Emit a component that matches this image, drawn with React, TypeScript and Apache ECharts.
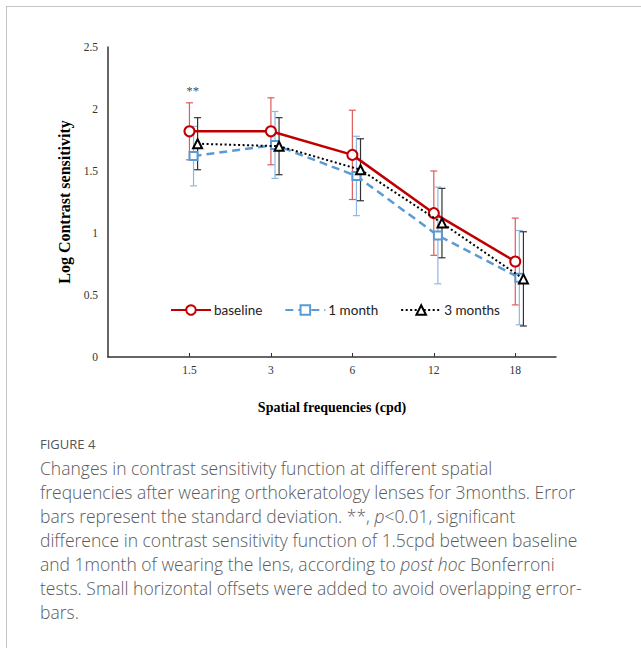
import React, { useEffect, useRef } from "react";
import * as echarts from "echarts";

const categories = ["1.5", "3", "6", "12", "18"];
const baselineMean = [1.82, 1.82, 1.63, 1.16, 0.77];
const baselineSD = [0.23, 0.27, 0.36, 0.34, 0.35];
const oneMonthMean = [1.62, 1.71, 1.46, 0.98, 0.64];
const oneMonthSD = [0.24, 0.27, 0.32, 0.39, 0.38];
const threeMonthsMean = [1.72, 1.7, 1.51, 1.08, 0.63];
const threeMonthsSD = [0.21, 0.23, 0.25, 0.28, 0.38];
const seriesNames = ["baseline", "1 month", "3 months"];
const xOffsets = [0, 0.05, 0.1];
const yTicks = [0, 0.5, 1, 1.5, 2, 2.5];
const annotation = { text: "**", x: 1.04, y: 2.15 };

const serif = "'Liberation Serif', 'Times New Roman', serif";

function points(means: number[], off: number) {
  return means.map((m, i) => [i + 1 + off, m]);
}
function errData(means: number[], sds: number[], off: number) {
  return means.map((m, i) => [i + 1 + off, m - sds[i], m + sds[i]]);
}

function errSeries(name: string, data: number[][], color: string) {
  return {
    name,
    type: "custom",
    z: 1,
    data,
    renderItem: (_p: any, api: any) => {
      const x = api.value(0);
      const top = api.coord([x, api.value(2)]);
      const bot = api.coord([x, api.value(1)]);
      const w = 3.5;
      const style = { stroke: color, lineWidth: 1.2 };
      return {
        type: "group",
        children: [
          { type: "line", shape: { x1: top[0], y1: top[1], x2: bot[0], y2: bot[1] }, style },
          { type: "line", shape: { x1: top[0] - w, y1: top[1], x2: top[0] + w, y2: top[1] }, style },
          { type: "line", shape: { x1: bot[0] - w, y1: bot[1], x2: bot[0] + w, y2: bot[1] }, style },
        ],
      };
    },
  };
}

function Chart() {
  const ref = useRef<HTMLDivElement>(null);
  useEffect(() => {
    if (!ref.current) return;
    const chart = echarts.init(ref.current, null, { renderer: "svg" });
    const lineColors = ["#C00000", "#5B9BD5", "#000000"];
    chart.setOption({
      animation: false,
      backgroundColor: "transparent",
      grid: { left: 108, top: 47, width: 448, height: 310 },
      legend: {
        data: seriesNames,
        left: 170,
        top: 303,
        padding: 0,
        itemWidth: 40,
        itemHeight: 12,
        itemGap: 22,
        textStyle: { fontFamily: "Lato, 'Open Sans', sans-serif", fontSize: 13.5, color: "#222", padding: [0, 0, 0, -2] },
      },
      xAxis: {
        type: "value",
        min: 0,
        max: 5.5,
        interval: 1,
        name: "Spatial frequencies (cpd)",
        nameLocation: "middle",
        nameGap: 43,
        nameTextStyle: { fontFamily: serif, fontWeight: "bold", fontSize: 14, color: "#000" },
        axisLine: { lineStyle: { color: "#333", width: 1.5 } },
        axisTick: { show: true, inside: true, length: 4, customValues: [1, 2, 3, 4, 5], lineStyle: { color: "#333" } },
        axisLabel: {
          customValues: [1, 2, 3, 4, 5],
          formatter: (v: number) => categories[Math.round(v) - 1] ?? "",
          fontFamily: serif,
          fontSize: 11.5,
          color: "#333",
          margin: 7,
        },
        splitLine: { show: false },
      },
      yAxis: {
        type: "value",
        min: 0,
        max: 2.5,
        interval: 0.5,
        name: "Log Contrast sensitivity",
        nameLocation: "middle",
        nameGap: 34,
        nameTextStyle: { fontFamily: serif, fontWeight: "bold", fontSize: 16, color: "#000" },
        axisLine: { show: true, lineStyle: { color: "#333", width: 1.5 } },
        axisTick: { show: false },
        axisLabel: {
          customValues: yTicks,
          fontFamily: serif,
          fontSize: 11.5,
          color: "#333",
          margin: 10,
        },
        splitLine: { show: false },
      },
      series: [
        errSeries("baseline SD", errData(baselineMean, baselineSD, xOffsets[0]), "#E05A5A"),
        errSeries("1 month SD", errData(oneMonthMean, oneMonthSD, xOffsets[1]), "#8DB8E4"),
        errSeries("3 months SD", errData(threeMonthsMean, threeMonthsSD, xOffsets[2]), "#333333"),
        {
          name: seriesNames[0],
          type: "line",
          z: 4,
          data: points(baselineMean, xOffsets[0]),
          symbol: "emptyCircle",
          symbolSize: 10,
          lineStyle: { color: lineColors[0], width: 2.5 },
          itemStyle: { color: lineColors[0], borderWidth: 1.2 },
        },
        {
          name: seriesNames[1],
          type: "line",
          z: 3,
          data: points(oneMonthMean, xOffsets[1]),
          symbol: "emptyRect",
          symbolSize: 8,
          lineStyle: { color: lineColors[1], width: 2.5, type: [8, 5] },
          itemStyle: { color: lineColors[1], borderWidth: 1.2 },
        },
        {
          name: seriesNames[2],
          type: "line",
          z: 5,
          data: points(threeMonthsMean, xOffsets[2]),
          symbol: "emptyTriangle",
          symbolSize: 9,
          lineStyle: { color: lineColors[2], width: 2, type: [2, 2.5] },
          itemStyle: { color: lineColors[2], borderWidth: 1.1 },
        },
        {
          name: "annotation",
          type: "scatter",
          symbol: "circle",
          symbolSize: 1,
          itemStyle: { color: "rgba(0,0,0,0)" },
          data: [[annotation.x, annotation.y]],
          label: {
            show: true,
            position: "inside",
            formatter: annotation.text,
            fontFamily: serif,
            fontSize: 13,
            color: "#111",
          },
        },
      ],
    });
    return () => chart.dispose();
  }, []);
  return <div ref={ref} style={{ position: "absolute", left: 0, top: 0, width: 641, height: 430 }} />;
}

export default function App() {
  const cap: React.CSSProperties = {
    position: "absolute",
    left: 40,
    top: 456,
    fontFamily: "'Open Sans', sans-serif",
    fontWeight: 300,
    fontSize: 17.5,
    lineHeight: "24px",
    color: "#5a5a5a",
    whiteSpace: "nowrap",
  };
  return (
    <div style={{ position: "absolute", left: 0, top: 0, width: 641, height: 648, overflow: "hidden", background: "#fff" }}>
      <div style={{ position: "absolute", left: 6, top: 6, width: 800, height: 800, border: "1px solid #c4c4c4" }} />
      <Chart />
      <div
        style={{
          position: "absolute",
          left: 40,
          top: 435,
          fontFamily: "'Open Sans', sans-serif",
          fontSize: 13,
          color: "#555",
          lineHeight: "18px",
        }}
      >
        FIGURE 4
      </div>
      <div style={cap}>
        Changes in contrast sensitivity function at different spatial
        <br />
        frequencies after wearing orthokeratology lenses for 3months. Error
        <br />
        bars represent the standard deviation. **, <i>p</i>&lt;0.01, significant
        <br />
        difference in contrast sensitivity function of 1.5cpd between baseline
        <br />
        and 1month of wearing the lens, according to <i>post hoc</i> Bonferroni
        <br />
        tests. Small horizontal offsets were added to avoid overlapping error-
        <br />
        bars.
      </div>
    </div>
  );
}
